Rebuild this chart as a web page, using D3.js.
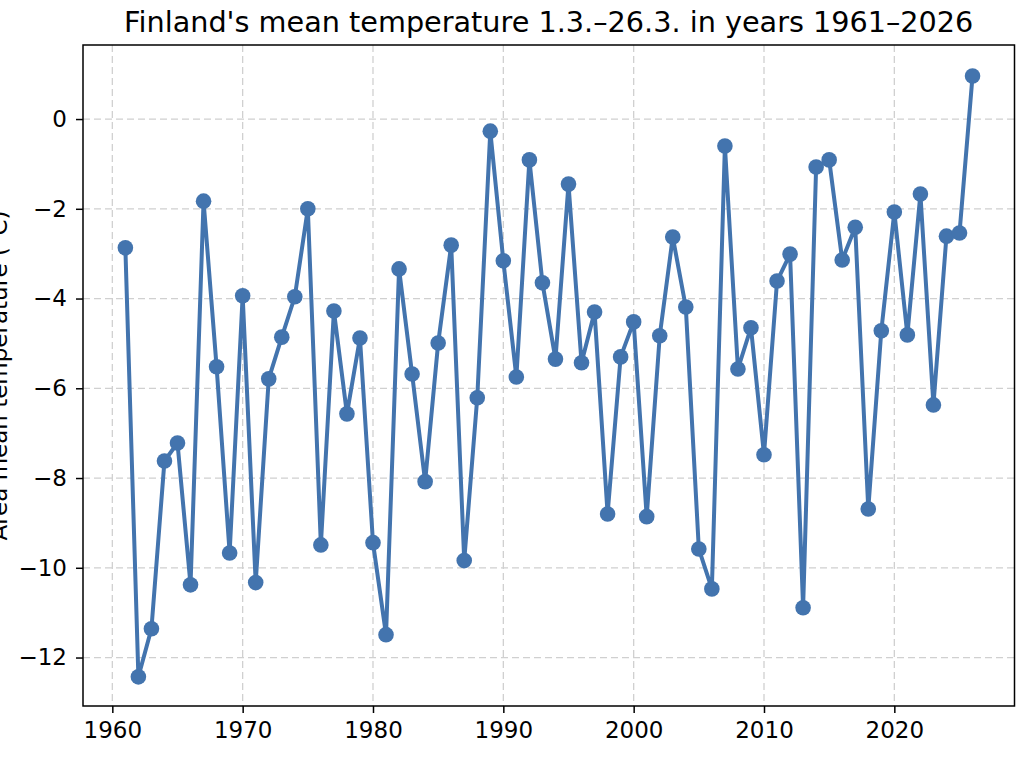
<!DOCTYPE html>
<html>
<head>
<meta charset="utf-8">
<script src="https://cdn.jsdelivr.net/npm/d3@7"></script>
<style>
  body { margin: 0; background: #fff; }
  text { font-family: "DejaVu Sans", sans-serif; }
</style>
</head>
<body>
<script>
// datos
var years = d3.range(1961, 2027)
var temps = [
  -2.87, -12.43, -11.36, -7.62, -7.22, -10.38, -1.83, -5.52, -9.67, -3.94,
  -10.33, -5.79, -4.86, -3.96, -2.00, -9.49, -4.28, -6.57, -4.88, -9.44,
  -11.49, -3.34, -5.68, -8.08, -4.99, -2.81, -9.84, -6.21, -0.27, -3.16,
  -5.75, -0.91, -3.65, -5.35, -1.45, -5.43, -4.30, -8.80, -5.30, -4.52,
  -8.86, -4.83, -2.63, -4.19, -9.58, -10.47, -0.60, -5.57, -4.65, -7.48,
  -3.61, -3.01, -10.89, -1.07, -0.91, -3.14, -2.41, -8.69, -4.72, -2.07,
  -4.81, -1.67, -6.37, -2.61, -2.54, 0.96
]
var xTicks = [1960, 1970, 1980, 1990, 2000, 2010, 2020]
var yTicks = [0, -2, -4, -6, -8, -10, -12]

var data = years.map((y, i) => ({year: y, temp: temps[i]}))

var W = 1024, H = 759
// margenes del area de dibujo (ojo: "top" choca con window.top)
var pL = 83, pR = 1014.5, pT = 45, pB = 706

var svg = d3.select("body").append("svg")
    .attr("width", W)
    .attr("height", H)

var x = d3.scaleLinear().domain([1957.75, 2029.22]).range([pL, pR])
var y = d3.scaleLinear().domain([-13.08, 1.65]).range([pB, pT])

// rejilla
svg.append("g").selectAll("line").data(xTicks).enter().append("line")
    .attr("x1", d => x(d)).attr("x2", d => x(d))
    .attr("y1", pT).attr("y2", pB)
    .style("stroke", "#d0d0d0").style("stroke-width", 1.3)
    .style("stroke-dasharray", "7,4")
svg.append("g").selectAll("line").data(yTicks).enter().append("line")
    .attr("x1", pL).attr("x2", pR)
    .attr("y1", d => y(d)).attr("y2", d => y(d))
    .style("stroke", "#d0d0d0").style("stroke-width", 1.3)
    .style("stroke-dasharray", "7,4")

// ejes
var xAxis = svg.append("g")
    .attr("transform", "translate(0," + pB + ")")
    .call(d3.axisBottom(x).tickValues(xTicks).tickFormat(d3.format("d")).tickSize(7).tickPadding(9))
var yAxis = svg.append("g")
    .attr("transform", "translate(" + pL + ",0)")
    .call(d3.axisLeft(y).tickValues(yTicks).tickFormat(d => d < 0 ? "\u2212" + Math.abs(d) : d).tickSize(7).tickPadding(9))

;[xAxis, yAxis].forEach(g => {
  g.select(".domain").remove()
  g.selectAll("line").style("stroke", "#000").style("stroke-width", 1.5)
  g.selectAll("text").style("font-size", "23px").style("fill", "#000")
    .style("font-family", "'DejaVu Sans', sans-serif")
})

// marco
svg.append("rect")
    .attr("x", pL).attr("y", pT)
    .attr("width", pR - pL).attr("height", pB - pT)
    .style("fill", "none").style("stroke", "#000").style("stroke-width", 1.5)

// linea y puntos
var line = d3.line().x(d => x(d.year)).y(d => y(d.temp))
svg.append("path").datum(data)
    .attr("d", line)
    .style("fill", "none").style("stroke", "#4374ae")
    .style("stroke-width", 4).style("stroke-linejoin", "round")

svg.append("g").selectAll("circle").data(data).enter().append("circle")
    .attr("cx", d => x(d.year))
    .attr("cy", d => y(d.temp))
    .attr("r", 7.8)
    .attr("fill", "#4374ae")

// titulo y etiqueta
svg.append("text")
    .attr("x", (pL + pR) / 2).attr("y", 32)
    .attr("text-anchor", "middle")
    .style("font-size", "28.7px")
    .text("Finland's mean temperature 1.3.\u201326.3. in years 1961\u20132026")

svg.append("text")
    .attr("transform", "translate(7," + (pT + pB) / 2 + ") rotate(-90)")
    .attr("text-anchor", "middle")
    .style("font-size", "23px")
    .text("Area mean temperature (\u00b0C)")
</script>
</body>
</html>
